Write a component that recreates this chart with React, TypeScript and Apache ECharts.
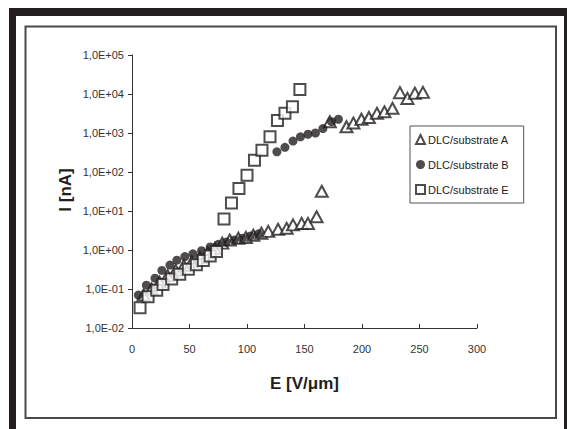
import React, { useEffect, useRef } from "react";
import * as echarts from "echarts";

const seriesNames = ["DLC/substrate A", "DLC/substrate B", "DLC/substrate E"];

// [E (V/µm), I (nA)]
const substrateA: [number, number][] = [
  [10, 0.07], [17, 0.1], [24, 0.15], [31, 0.22], [38, 0.3], [45, 0.4], [52, 0.5],
  [59, 0.65], [66, 0.85], [72, 1.1], [78.5, 1.5], [85, 1.8], [92.5, 2.0], [99, 2.1],
  [105.5, 2.4], [112.5, 2.7], [118.5, 3.0], [127, 3.4], [134.5, 3.6], [140, 4.4],
  [147.5, 4.8], [153, 4.8], [160.5, 7.1], [165, 32],
  [172, 1950], [186.5, 1450], [192.5, 1800], [199.5, 2250], [206, 2500], [213, 3200],
  [219.5, 3500], [226.5, 4300], [233, 10800], [239.5, 7700], [246, 10500], [253, 11000],
];

const substrateB: [number, number][] = [
  [5.5, 0.07], [12.5, 0.125], [20, 0.19], [26, 0.3], [33, 0.41], [39, 0.55], [46, 0.68],
  [53, 0.8], [60.5, 0.96], [68, 1.2], [75, 1.4], [82, 1.6], [89, 1.8], [96, 2.0],
  [103, 2.3], [110, 2.6],
  [126, 330], [133, 430], [140, 620], [146.5, 800], [153, 930], [159.5, 1000],
  [166, 1300], [173.5, 1950], [179.5, 2250],
];

const substrateE: [number, number][] = [
  [7, 0.033], [14, 0.063], [21.5, 0.093], [27, 0.13], [34.5, 0.18], [41.5, 0.24],
  [49, 0.32], [56, 0.42], [62, 0.54], [68, 0.7], [73.5, 0.91], [80, 6.2], [86.5, 16],
  [93, 38], [100, 83], [106.5, 200], [113, 360], [120, 800], [126.5, 2100],
  [133, 3200], [139.5, 4700], [146, 13000],
];

const xTicks = { min: 0, max: 300, interval: 50 };
const yRange = { min: 0.01, max: 100000 };

function sciLabel(v: number): string {
  const e = Math.round(Math.log10(v));
  const sign = e < 0 ? "-" : "+";
  const abs = Math.abs(e);
  return "1,0E" + sign + (abs < 10 ? "0" + abs : String(abs));
}

export default function App() {
  const ref = useRef<HTMLDivElement>(null);
  useEffect(() => {
    if (!ref.current) return;
    const chart = echarts.init(ref.current, undefined, { renderer: "svg" });
    const ink = "#231f20";
    const font = "Liberation Sans, Arial, sans-serif";
    chart.setOption({
      animation: false,
      backgroundColor: "#ffffff",
      textStyle: { fontFamily: font },
      graphic: [
        { type: "rect", z: -10, shape: { x: 9, y: 8, width: 580, height: 440 }, style: { fill: ink } },
        { type: "rect", z: -9, shape: { x: 16, y: 16, width: 548, height: 440 }, style: { fill: "#ffffff" } },
        {
          type: "rect", z: -8,
          shape: { x: 25.5, y: 26.5, width: 530.5, height: 391.5 },
          style: { fill: "#ffffff", stroke: "#4a4a4a", lineWidth: 2 },
        },
        {
          type: "text",
          x: 65,
          y: 190,
          rotation: Math.PI / 2,
          style: {
            text: "I [nA]",
            fill: ink,
            font: "bold 17px Liberation Sans, Arial, sans-serif",
            align: "center",
            verticalAlign: "middle",
          },
        },
      ],
      grid: { left: 132, top: 55, width: 345, height: 273, containLabel: false },
      legend: {
        orient: "vertical",
        left: 410,
        top: 126,
        itemWidth: 9,
        itemHeight: 9,
        itemGap: 14,
        padding: [8, 15, 8, 5],
        borderColor: "#555555",
        borderWidth: 1,
        backgroundColor: "#ffffff",
        textStyle: { fontSize: 11, color: "#222222", fontFamily: font, padding: [0, 0, 0, -2] },
        data: seriesNames,
      },
      xAxis: {
        type: "value",
        min: xTicks.min,
        max: xTicks.max,
        interval: xTicks.interval,
        name: "E [V/\u03bcm]",
        nameLocation: "middle",
        nameGap: 47,
        nameTextStyle: { fontSize: 17, fontWeight: "bold", color: ink, fontFamily: font },
        axisLine: { show: true, lineStyle: { color: "#333333", width: 1 } },
        axisTick: { show: true, inside: true, length: 4, lineStyle: { color: "#333333" } },
        axisLabel: { fontSize: 11, color: "#333333", margin: 15, fontFamily: font },
        splitLine: { show: false },
      },
      yAxis: {
        type: "log",
        logBase: 10,
        min: yRange.min,
        max: yRange.max,
        axisLine: { show: true, lineStyle: { color: "#333333", width: 1 } },
        axisTick: { show: true, inside: false, length: 4, lineStyle: { color: "#333333" } },
        axisLabel: { fontSize: 11, color: "#333333", margin: 8, fontFamily: font, formatter: sciLabel },
        splitLine: { show: false },
        minorTick: { show: false },
      },
      series: [
        {
          name: seriesNames[0],
          type: "scatter",
          data: substrateA,
          symbol: "triangle",
          symbolSize: [12, 11],
          itemStyle: { color: "#ffffff", borderColor: ink, borderWidth: 2 },
          z: 2,
        },
        {
          name: seriesNames[1],
          type: "scatter",
          data: substrateB,
          symbol: "circle",
          symbolSize: 9,
          itemStyle: { color: ink, borderColor: ink, borderWidth: 0 },
          z: 3,
        },
        {
          name: seriesNames[2],
          type: "scatter",
          data: substrateE,
          symbol: "rect",
          symbolSize: 11,
          itemStyle: { color: "#ffffff", borderColor: ink, borderWidth: 2 },
          z: 4,
        },
      ],
    });
    return () => chart.dispose();
  }, []);
  return (
    <div
      ref={ref}
      style={{ position: "fixed", left: 0, top: 0, width: 567, height: 429 }}
    />
  );
}
